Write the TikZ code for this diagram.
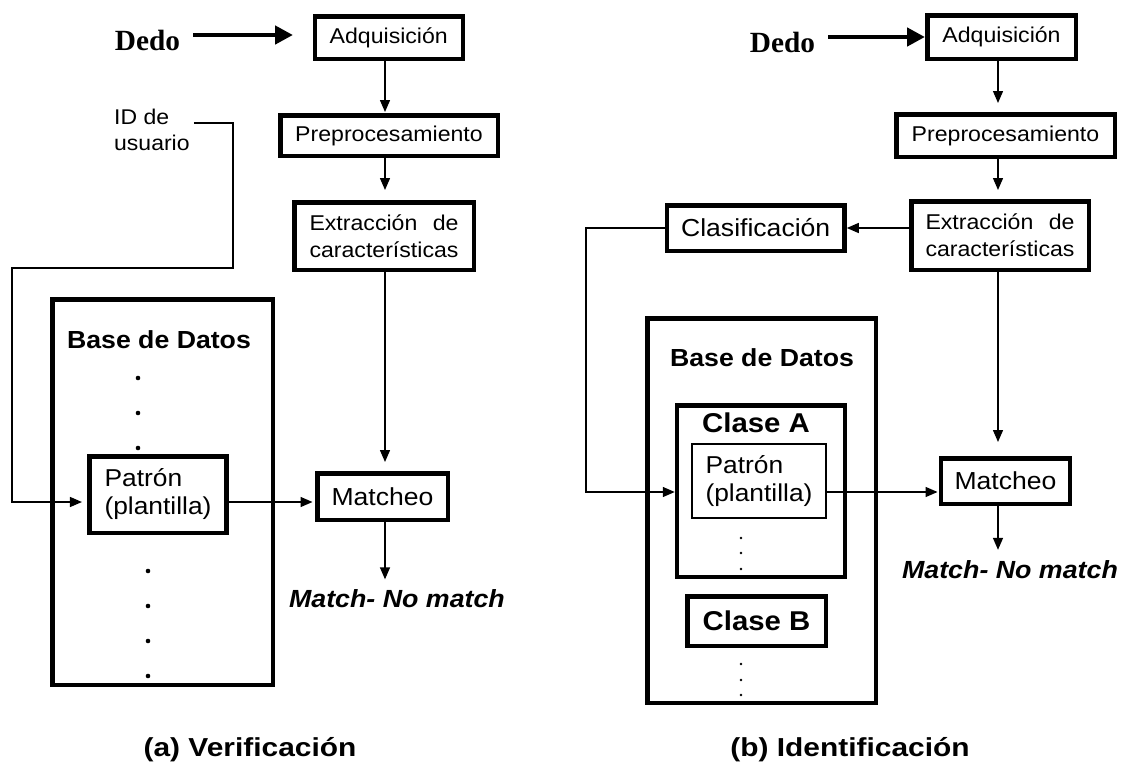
\documentclass[tikz,border=0pt]{standalone}
\usepackage{fontspec}
\setmainfont{Liberation Sans}[FakeStretch=1.08]
\newfontfamily\capfont{Liberation Sans}[FakeStretch=1.15]
\newfontfamily\dedofont{Liberation Serif}
\usepackage{calc}
\usetikzlibrary{arrows.meta}

\tikzset{
  box/.style={draw, line width=4.5pt, inner sep=0pt, align=center, font=\fontsize{21.4}{27}\selectfont},
  bigbox/.style={box, font=\fontsize{24.6}{28}\selectfont},
  patbox/.style={draw, line width=4.5pt, inner sep=0pt, align=left, font=\fontsize{24.4}{28}\selectfont},
  thinbox/.style={patbox, line width=2.2pt},
  conn/.style={line width=1.4pt, -{Triangle[length=12pt,width=10pt]}},
  bigarrow/.style={line width=4.7pt, -{Triangle[length=18pt,width=18pt]}},
  dedo/.style={inner sep=0pt, anchor=base, font=\dedofont\bfseries\fontsize{29.3}{30}\selectfont},
  plaintext/.style={inner sep=0pt, align=left, font=\fontsize{21.3}{26}\selectfont},
  dblabel/.style={inner sep=0pt, font=\bfseries\fontsize{24.7}{28}\selectfont},
  classlabel/.style={inner sep=0pt, font=\bfseries\fontsize{27.2}{30}\selectfont},
  result/.style={inner sep=0pt, anchor=base, font=\bfseries\itshape\fontsize{24.8}{28}\selectfont},
  caption/.style={inner sep=0pt, anchor=base, font=\capfont\bfseries\fontsize{26}{30}\selectfont},
  bigdot/.style={fill=black},
}

\begin{document}
\begin{tikzpicture}[x=1pt,y=-1pt]
\useasboundingbox (0,0) rectangle (1122,763);

% ---------------- helper coordinates ----------------
\coordinate (colA) at (385,0);
\coordinate (rowA) at (0,502);
\coordinate (rDA) at (0,35);
\coordinate (rID) at (0,123);
\coordinate (bend1) at (233,268);
\coordinate (bend2) at (12,502);
\coordinate (colB) at (998,0);
\coordinate (rowB) at (0,492);
\coordinate (rDB) at (0,37);
\coordinate (fbB) at (586,492);

% ================= (a) Verificacion =================
\node[dedo] (dedoA) at (147.5,50) {Dedo};
\node[box, minimum width=148pt, minimum height=42.5pt] (adqA) at (388.75,37.5) {Adquisición};
\node[box, minimum width=217.5pt, minimum height=40.5pt] (preA) at (389,135.5) {Preprocesamiento};
\node[box, minimum width=179.5pt, minimum height=67.5pt] (extA) at (384,236)
  {\makebox[\widthof{características}][s]{Extracción de}\\características};
\node[plaintext, anchor=west] (idA) at (114,130) {ID de\\usuario};
\node[draw, line width=4.5pt, minimum width=220.5pt, minimum height=385.5pt] (dbA) at (162.5,492) {};
\node[dblabel] (dbtA) at (159,340) {Base de Datos};
\node[patbox, minimum width=136.6pt, minimum height=76.5pt] (patA) at (158,494.5) {Patrón\\(plantilla)};
\node[bigbox, minimum width=130.5pt, minimum height=46.5pt] (matA) at (382.5,496.5) {Matcheo};
\node[result] (resA) at (397,607) {Match- No match};
\node[caption] (capA) at (250,756) {(a) Verificación};

\foreach \yy in {378,413,448} \fill[bigdot] (138,\yy) circle[radius=2.3pt];
\foreach \yy in {571,606,641,676} \fill[bigdot] (148,\yy) circle[radius=2.3pt];

\draw[bigarrow, shorten <=13pt, shorten >=19.5pt] (dedoA.east |- rDA) -- (adqA.west |- rDA);
\draw[conn, shorten >=1pt] (adqA.south -| colA) -- (preA.north -| colA);
\draw[conn, shorten >=10pt] (preA.south -| colA) -- (extA.north -| colA);
\draw[conn, shorten >=9pt] (extA.south -| colA) -- (matA.north -| colA);
\draw[conn, shorten >=9.5pt] (matA.south -| colA) -- (resA.north -| colA);
\draw[conn, shorten >=2.5pt] (patA.east |- rowA) -- (matA.west |- rowA);
\draw[conn, shorten >=5.5pt] ([xshift=4pt]idA.east |- rID) -| (bend1) -| (bend2) -- (patA.west |- rowA);

% ================= (b) Identificacion =================
\node[dedo] (dedoB) at (782.5,52) {Dedo};
\node[box, minimum width=148.5pt, minimum height=43.5pt] (adqB) at (1001.5,37) {Adquisición};
\node[box, minimum width=218.5pt, minimum height=42.5pt] (preB) at (1005.5,135.5) {Preprocesamiento};
\node[box, minimum width=177.5pt, minimum height=68.5pt] (extB) at (1000,235.5)
  {\makebox[\widthof{características}][s]{Extracción de}\\características};
\node[bigbox, minimum width=177.7pt, minimum height=45.5pt] (claB) at (755.7,228) {Clasificación};
\node[draw, line width=4.5pt, minimum width=228.5pt, minimum height=384.5pt] (dbB) at (761.5,510.5) {};
\node[dblabel] (dbtB) at (762,358) {Base de Datos};
\node[draw, line width=4.5pt, minimum width=168pt, minimum height=171.5pt] (caA) at (761,491) {};
\node[classlabel] (catA) at (756,423) {Clase A};
\node[thinbox, minimum width=133.8pt, minimum height=73.8pt] (patB) at (759,481) {Patrón\\(plantilla)};
\node[box, minimum width=138.5pt, minimum height=49.5pt, font=\bfseries\fontsize{27.2}{30}\selectfont] (caB) at (756.5,621) {Clase B};
\node[bigbox, minimum width=129.4pt, minimum height=45.5pt] (matB) at (1005.5,481) {Matcheo};
\node[result] (resB) at (1010,578) {Match- No match};
\node[caption] (capB) at (850,756) {(b) Identificación};

\foreach \yy in {538,553,569,664,680,695} \fill[bigdot] (741,\yy) circle[radius=1.3pt];

\draw[bigarrow, shorten <=13pt] (dedoB.east |- rDB) -- (adqB.west |- rDB);
\draw[conn, shorten >=9pt] (adqB.south -| colB) -- (preB.north -| colB);
\draw[conn, shorten >=9pt] (preB.south -| colB) -- (extB.north -| colB);
\draw[conn, shorten >=14pt] (extB.south -| colB) -- (matB.north -| colB);
\draw[conn, shorten >=10pt] (matB.south -| colB) -- (resB.north -| colB);
\draw[conn] (extB.west |- claB.east) -- (claB.east);
\draw[conn] (claB.west) -| (fbB) -- (caA.west |- rowB);
\draw[conn, shorten >=1pt] (patB.east |- rowB) -- (matB.west |- rowB);
\end{tikzpicture}
\end{document}
